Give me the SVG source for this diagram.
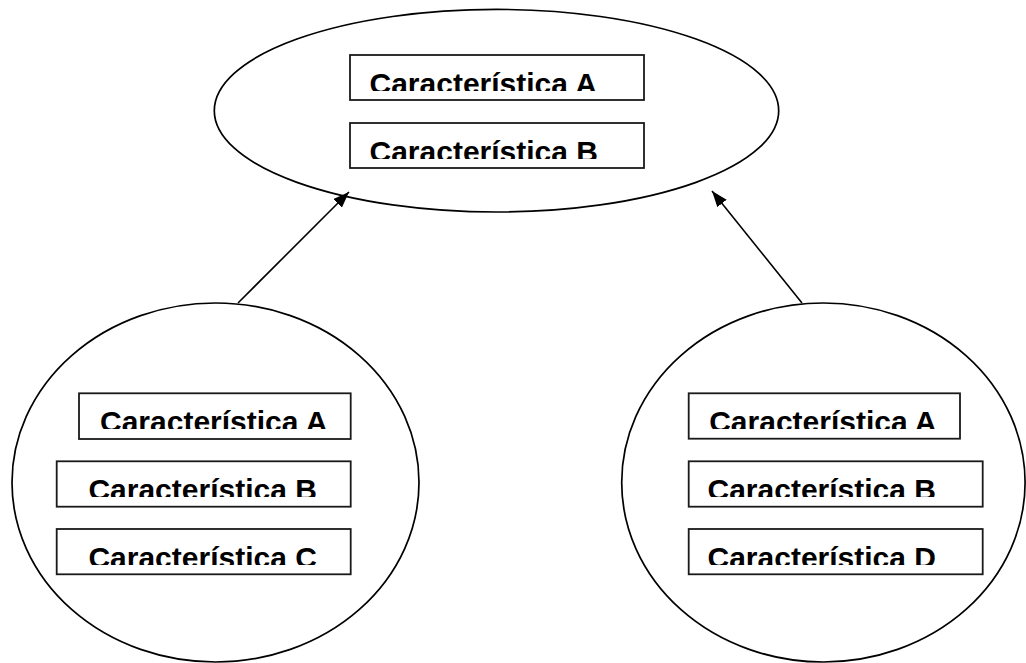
<svg xmlns="http://www.w3.org/2000/svg" width="1026" height="663" viewBox="0 0 1026 663">
<style>
.shape{fill:#fff;stroke:#000;stroke-width:1.7}
.box{fill:#fff;stroke:#1a1a1a;stroke-width:1.8}
.lbl{font-family:"Liberation Sans",Arial,sans-serif;font-weight:bold;font-size:30px;fill:#000}
.conn{stroke:#000;stroke-width:1.6;fill:none}
</style>
<defs>
<marker id="arr" markerUnits="userSpaceOnUse" markerWidth="16" markerHeight="12" refX="16" refY="6" orient="auto">
<path d="M0,0 L16,6 L0,12 z" fill="#000"/>
</marker>
<clipPath id="c1"><rect x="350" y="55" width="294" height="36"/></clipPath>
<clipPath id="c2"><rect x="350" y="123" width="294" height="36"/></clipPath>
<clipPath id="c3"><rect x="79" y="393" width="272" height="36"/></clipPath>
<clipPath id="c4"><rect x="57" y="461" width="294" height="36"/></clipPath>
<clipPath id="c5"><rect x="57" y="529" width="294" height="36"/></clipPath>
<clipPath id="c6"><rect x="689" y="393" width="272" height="36"/></clipPath>
<clipPath id="c7"><rect x="689" y="461" width="294" height="36"/></clipPath>
<clipPath id="c8"><rect x="689" y="529" width="294" height="36"/></clipPath>
</defs>
<g id="top">
<ellipse class="shape" cx="496.5" cy="110.7" rx="282.2" ry="101.3"/>
<rect class="box" x="350" y="55" width="294" height="45"/>
<text class="lbl" x="369.5" y="93.5" clip-path="url(#c1)">Característica A</text>
<rect class="box" x="350" y="123" width="294" height="45"/>
<text class="lbl" x="369.5" y="161.5" clip-path="url(#c2)">Característica B</text>
</g>
<g id="left">
<ellipse class="shape" cx="215.5" cy="482.5" rx="203.5" ry="179.5"/>
<rect class="box" x="79" y="393.3" width="271.7" height="45.7"/>
<text class="lbl" x="100" y="431.8" clip-path="url(#c3)">Característica A</text>
<rect class="box" x="56.7" y="461.3" width="294" height="45.4"/>
<text class="lbl" x="88.4" y="499.8" clip-path="url(#c4)">Característica B</text>
<rect class="box" x="56.7" y="529" width="294" height="45.3"/>
<text class="lbl" x="88.4" y="567.5" clip-path="url(#c5)">Característica C</text>
</g>
<g id="right">
<ellipse class="shape" cx="823.4" cy="482.5" rx="201.7" ry="179.5"/>
<rect class="box" x="688.7" y="393.3" width="271.3" height="45.4"/>
<text class="lbl" x="709.2" y="431.8" clip-path="url(#c6)">Característica A</text>
<rect class="box" x="688.7" y="461.3" width="294" height="45.4"/>
<text class="lbl" x="707.5" y="499.8" clip-path="url(#c7)">Característica B</text>
<rect class="box" x="688.7" y="529" width="294" height="45.3"/>
<text class="lbl" x="707.5" y="567.5" clip-path="url(#c8)">Característica D</text>
</g>
<g id="connectors">
<line class="conn" x1="238" y1="303" x2="349" y2="192" marker-end="url(#arr)"/>
<line class="conn" x1="802" y1="303" x2="712" y2="191" marker-end="url(#arr)"/>
</g>
</svg>
